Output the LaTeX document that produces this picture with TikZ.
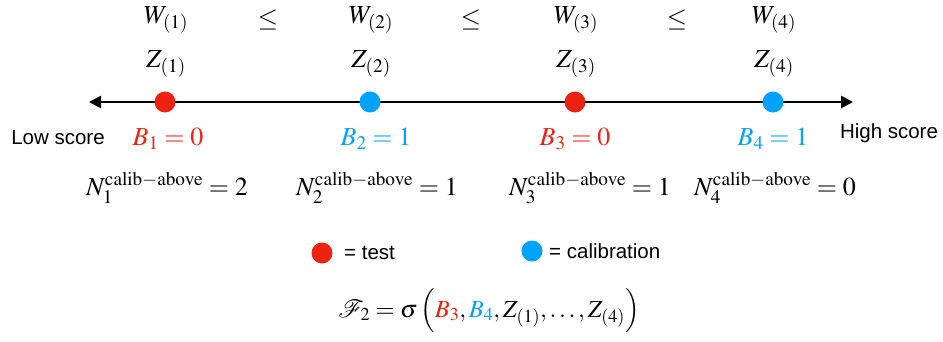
\documentclass[tikz,border=0pt]{standalone}
\usepackage{mathptmx}
\usepackage{mathrsfs}
\usepackage[no-math]{fontspec}
\newfontfamily\helv{Liberation Sans}
\usetikzlibrary{arrows.meta}
\definecolor{tred}{RGB}{236,34,18}
\definecolor{cblue}{RGB}{0,162,255}
\tikzset{
  dotnode/.style={circle,inner sep=0pt,minimum size=21pt},
  mathlbl/.style={inner sep=0pt,font=\fontsize{26}{30}\selectfont},
  formlbl/.style={inner sep=0pt,font=\fontsize{24.5}{28}\selectfont},
  sanslbl/.style={inner sep=0pt,font=\helv\fontsize{20.5}{24}\selectfont},
  axisline/.style={line width=2.7pt,{Triangle[length=12pt,width=12pt]}-{Triangle[length=12pt,width=12pt]}},
}
\begin{document}
\begin{tikzpicture}[x=1pt,y=-1pt]
\useasboundingbox (0,0) rectangle (943,341);
% axis
\coordinate (axl) at (89,102);
\coordinate (axr) at (853,102);
\draw[axisline] (axl) -- (axr);
% dots
\node[dotnode,fill=tred] (d1) at (165,102) {};
\node[dotnode,fill=cblue] (d2) at (370,102) {};
\node[dotnode,fill=tred] (d3) at (575,102) {};
\node[dotnode,fill=cblue] (d4) at (773,102) {};
% W row
\node[mathlbl] (w1) at (166,20) {$W_{(1)}$};
\node[mathlbl] (le1) at (268,20) {$\leq$};
\node[mathlbl] (w2) at (371,20) {$W_{(2)}$};
\node[mathlbl] (le2) at (471,20) {$\leq$};
\node[mathlbl] (w3) at (576,20) {$W_{(3)}$};
\node[mathlbl] (le3) at (677,20) {$\leq$};
\node[mathlbl] (w4) at (774,20) {$W_{(4)}$};
% Z row
\node[mathlbl] (z1) at (166,64) {$Z_{(1)}$};
\node[mathlbl] (z2) at (371,64) {$Z_{(2)}$};
\node[mathlbl] (z3) at (576,64) {$Z_{(3)}$};
\node[mathlbl] (z4) at (774,64) {$Z_{(4)}$};
% B row
\node[mathlbl,text=tred] (b1) at (168,139) {$B_1=0$};
\node[mathlbl,text=cblue] (b2) at (376,139) {$B_2=1$};
\node[mathlbl,text=tred] (b3) at (575,139) {$B_3=0$};
\node[mathlbl,text=cblue] (b4) at (773,139) {$B_4=1$};
% N row
\node[mathlbl] (n1) at (167,188) {$N_1^{\mathrm{calib}-\mathrm{above}}=2$};
\node[mathlbl] (n2) at (377,188) {$N_2^{\mathrm{calib}-\mathrm{above}}=1$};
\node[mathlbl] (n3) at (590,188) {$N_3^{\mathrm{calib}-\mathrm{above}}=1$};
\node[mathlbl] (n4) at (775,188) {$N_4^{\mathrm{calib}-\mathrm{above}}=0$};
% side labels
\node[sanslbl] (low) at (58,138) {Low score};
\node[sanslbl] (high) at (889,133) {High score};
% legend
\node[dotnode,fill=tred] (lt) at (322,253) {};
\node[sanslbl,anchor=west] (ltt) at (344,253) {= test};
\node[dotnode,fill=cblue] (lc) at (532,251) {};
\node[sanslbl,anchor=west] (lct) at (549,251) {= calibration};
% formula
\node[formlbl] (f) at (489,310) {$\mathscr{F}_2=\sigma\left(\vphantom{\rule[-16pt]{0pt}{46pt}}\textcolor{tred}{B_3},\textcolor{cblue}{B_4},Z_{(1)},\ldots,Z_{(4)}\right)$};
\end{tikzpicture}
\end{document}
